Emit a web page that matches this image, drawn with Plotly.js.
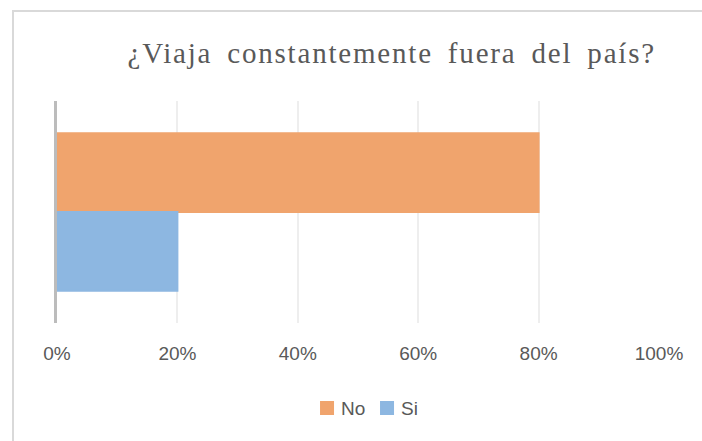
<!DOCTYPE html>
<html>
<head>
<meta charset="utf-8">
<script src="https://cdn.plot.ly/plotly-3.0.1.min.js"></script>
<style>
  html, body { margin: 0; padding: 0; background: #ffffff; overflow: hidden; }
  #wrap { position: relative; width: 702px; height: 441px; }
  #frame { position: absolute; left: 12px; top: 10px; width: 720px; height: 460px;
           border-left: 2px solid #D9D9D9; border-top: 2px solid #D9D9D9; pointer-events: none; }
  #chart { position: absolute; left: 0; top: 0; width: 702px; height: 441px; }
  .gtitle { letter-spacing: 1.8px; word-spacing: 6px; }
  .legend .legendtext { transform: translate(-6px, 0px); }
</style>
</head>
<body>
<div id="wrap">
  <div id="chart"></div>
  <div id="frame"></div>
</div>
<script>
const titleText = '¿Viaja constantemente fuera del país?';
const categories = [''];
const seriesNames = ['No', 'Si'];
const noValues = [0.8];
const siValues = [0.2];
const tickValues = [0, 0.2, 0.4, 0.6, 0.8, 1.0];
const tickLabels = ['0%', '20%', '40%', '60%', '80%', '100%'];

const colors = { No: '#F0A46D', Si: '#8DB7E1' };

const traces = [
  { type: 'bar', orientation: 'h', name: seriesNames[0], y: categories, x: noValues,
    marker: { color: colors.No, line: { width: 2, color: colors.No } }, hoverinfo: 'x+name' },
  { type: 'bar', orientation: 'h', name: seriesNames[1], y: categories, x: siValues,
    marker: { color: colors.Si, line: { width: 2, color: colors.Si } }, hoverinfo: 'x+name' }
];

const layout = {
  width: 702, height: 441,
  paper_bgcolor: 'rgba(0,0,0,0)', plot_bgcolor: 'rgba(0,0,0,0)',
  margin: { l: 57, r: 43, t: 101, b: 118 },
  barmode: 'group',
  bargap: 0.29,
  bargroupgap: 0,
  title: {
    text: titleText,
    font: { family: 'Liberation Serif, Times New Roman, serif', size: 29, color: '#595959' },
    xref: 'container', x: 0.558, xanchor: 'center',
    yref: 'container', y: 0.881, yanchor: 'middle'
  },
  xaxis: {
    range: [0, 1], tickvals: tickValues, ticktext: tickLabels,
    showgrid: true, gridcolor: '#EEEEEE', gridwidth: 2,
    zeroline: false, showline: false, ticks: '',
    ticklabelstandoff: 17,
    tickfont: { family: 'Liberation Sans, Arial, sans-serif', size: 19, color: '#595959' },
    fixedrange: true
  },
  yaxis: {
    type: 'category', autorange: 'reversed', showticklabels: false,
    showgrid: false, zeroline: false, ticks: '',
    showline: true, linecolor: '#BCBCBC', linewidth: 3,
    fixedrange: true
  },
  showlegend: true,
  legend: {
    orientation: 'h', x: 0.515, xanchor: 'center', y: -0.383, yanchor: 'middle',
    font: { family: 'Liberation Sans, Arial, sans-serif', size: 19, color: '#595959' },
    traceorder: 'normal', itemwidth: 30, entrywidth: 15
  }
};

Plotly.newPlot('chart', traces, layout, { displayModeBar: false, staticPlot: true });
</script>
</body>
</html>
